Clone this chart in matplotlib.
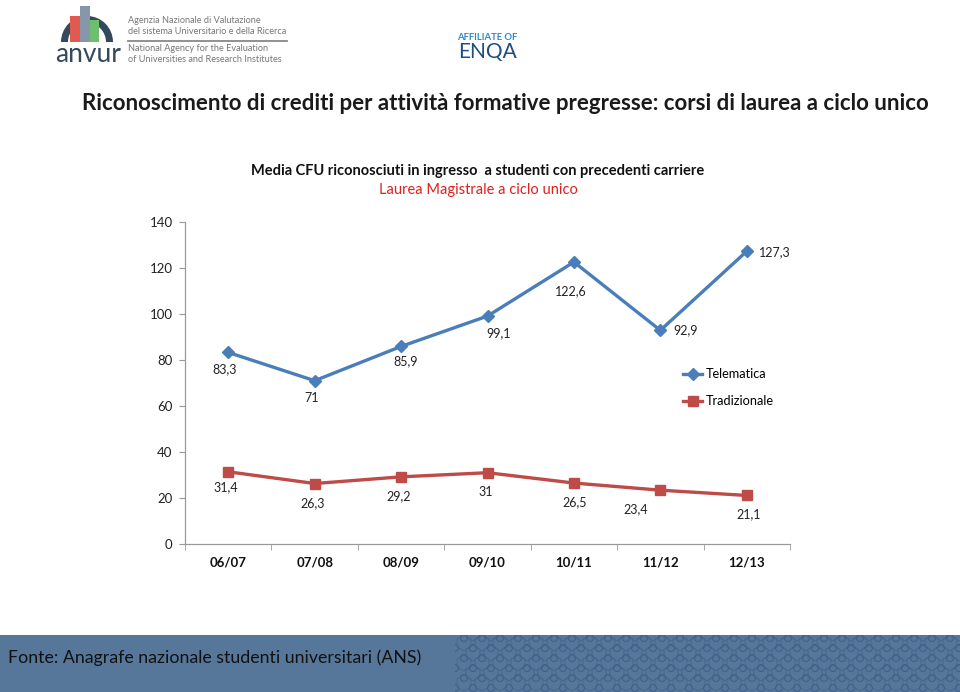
import matplotlib
matplotlib.use("Agg")
import matplotlib.pyplot as plt
from matplotlib.patches import Rectangle, Wedge, Circle, RegularPolygon

plt.rcParams['font.family'] = ['Lato', 'DejaVu Sans']

categories = ["06/07", "07/08", "08/09", "09/10", "10/11", "11/12", "12/13"]
telematica = [83.3, 71, 85.9, 99.1, 122.6, 92.9, 127.3]
tradizionale = [31.4, 26.3, 29.2, 31, 26.5, 23.4, 21.1]
tel_labels = ["83,3", "71", "85,9", "99,1", "122,6", "92,9", "127,3"]
trad_labels = ["31,4", "26,3", "29,2", "31", "26,5", "23,4", "21,1"]
yticks = [0, 20, 40, 60, 80, 100, 120, 140]

# label offsets in pixels (dx, dy)
tel_off = [(-4, -17), (-3, -17), (5, -15), (11, -17), (-3, -29), (25, 0), (28, -1)]
trad_off = [(-2, -15), (-2, -20), (-2, -19), (-2, -19), (1, -19), (-25, -19), (2, -19)]

W, H = 960, 692
fig = plt.figure(figsize=(W / 100, H / 100), dpi=100)

blue = "#4a7ebb"
red = "#be4b48"

ax = fig.add_axes([185 / W, 1 - 544 / H, 605 / W, 322 / H])
x = list(range(len(categories)))
ax.plot(x, telematica, color=blue, lw=2.4, marker="D", ms=6.5, label="Telematica", zorder=3)
ax.plot(x, tradizionale, color=red, lw=2.4, marker="s", ms=7.5, label="Tradizionale", zorder=3)
for i, (v, lab) in enumerate(zip(telematica, tel_labels)):
    ax.annotate(lab, (i, v), xytext=tel_off[i], textcoords="offset pixels",
                ha="center", va="center", fontsize=9, color="#222222")
for i, (v, lab) in enumerate(zip(tradizionale, trad_labels)):
    ax.annotate(lab, (i, v), xytext=trad_off[i], textcoords="offset pixels",
                ha="center", va="center", fontsize=9, color="#222222")

ax.set_xlim(-0.5, len(categories) - 0.5)
ax.set_ylim(0, 140)
ax.set_yticks(yticks)
ax.set_yticklabels([str(t) for t in yticks], fontsize=9.5, color="#222222")
ax.set_xticks(x)
ax.set_xticklabels(categories, fontsize=9.5, fontweight="bold", color="#111111")
ax.set_xticks([i - 0.5 for i in range(len(categories) + 1)], minor=True)
ax.tick_params(axis="x", which="major", length=0, pad=9)
ax.tick_params(axis="x", which="minor", length=4, color="#999999")
ax.tick_params(axis="y", length=4, color="#999999", pad=5)
for s in ["top", "right"]:
    ax.spines[s].set_visible(False)
for s in ["left", "bottom"]:
    ax.spines[s].set_color("#999999")
    ax.spines[s].set_linewidth(0.9)

leg = ax.legend(loc="upper left", bbox_to_anchor=(493 / 605, 1 - (363 - 222) / 322),
                frameon=False, fontsize=9.2, handlelength=1.5, handletextpad=0.25,
                labelspacing=1.2, borderaxespad=0)

# titles
fig.text(505 / W, 1 - 103 / H,
         "Riconoscimento di crediti per attività formative pregresse: corsi di laurea a ciclo unico",
         ha="center", va="center", fontsize=16, fontweight="bold", color="#1a1a1a")
fig.text(478 / W, 1 - 171 / H,
         "Media CFU riconosciuti in ingresso  a studenti con precedenti carriere",
         ha="center", va="center", fontsize=10.5, fontweight="bold", color="#111111")
fig.text(478 / W, 1 - 190 / H, "Laurea Magistrale a ciclo unico",
         ha="center", va="center", fontsize=10.5, color="#e0201b")

# footer band
fig.patches.append(Rectangle((0, 0), 1, (H - 635) / H, transform=fig.transFigure,
                             facecolor="#56769a", edgecolor="none", zorder=-5))
# decorative pattern on the right of the footer
pat = fig.add_axes([455 / W, 0, (W - 455) / W, (H - 635) / H])
pat.set_zorder(-1)
pat.set_xlim(0, W - 455)
pat.set_ylim(0, H - 635)
pat.axis("off")
for row in range(6):
    for col in range(30):
        cx = col * 18 + (9 if row % 2 else 0)
        cy = 4 + row * 10
        pat.add_patch(Circle((cx, cy), 3.5, facecolor="none", edgecolor="#42618a", lw=0.8))
        pat.add_patch(RegularPolygon((cx + 9, cy + 5), 6, radius=8, facecolor="none",
                                     edgecolor="#46668c", lw=0.6))
fig.text(8 / W, 1 - 658 / H, "Fonte: Anagrafe nazionale studenti universitari (ANS)",
         ha="left", va="center", fontsize=12.8, color="#111111")

# logo (approximation)
lax = fig.add_axes([56 / W, 1 - 70 / H, 70 / W, 65 / H])
lax.set_xlim(0, 70)
lax.set_ylim(0, 65)
lax.axis("off")
lax.add_patch(Wedge((31, 28), 26, 0, 180, width=7, facecolor="#34495e", edgecolor="none"))
lax.add_patch(Rectangle((14, 28), 10, 26, facecolor="#e05a4f"))
lax.add_patch(Rectangle((24, 28), 10, 36, facecolor="#8796a8"))
lax.add_patch(Rectangle((34, 28), 9, 22, facecolor="#6cbf6c"))
fig.text(55 / W, 1 - 54 / H, "anvur", ha="left", va="center", fontsize=19, color="#34495e")
fig.text(128 / W, 1 - 26 / H, "Agenzia Nazionale di Valutazione\ndel sistema Universitario e della Ricerca",
         ha="left", va="center", fontsize=6.6, color="#777777", linespacing=1.15)
fig.add_artist(plt.Line2D([128 / W, 287 / W], [1 - 41 / H, 1 - 41 / H], color="#888888", lw=1.3))
fig.text(128 / W, 1 - 54 / H, "National Agency for the Evaluation\nof Universities and Research Institutes",
         ha="left", va="center", fontsize=6.6, color="#777777", linespacing=1.15)
fig.text(487 / W, 1 - 37 / H, "AFFILIATE OF", ha="center", va="center", fontsize=6.8,
         fontweight="bold", color="#2a8bc9")
fig.text(487 / W, 1 - 52 / H, "ENQA", ha="center", va="center", fontsize=15, color="#1d4e80")

fig.savefig("out.png", dpi=100)
